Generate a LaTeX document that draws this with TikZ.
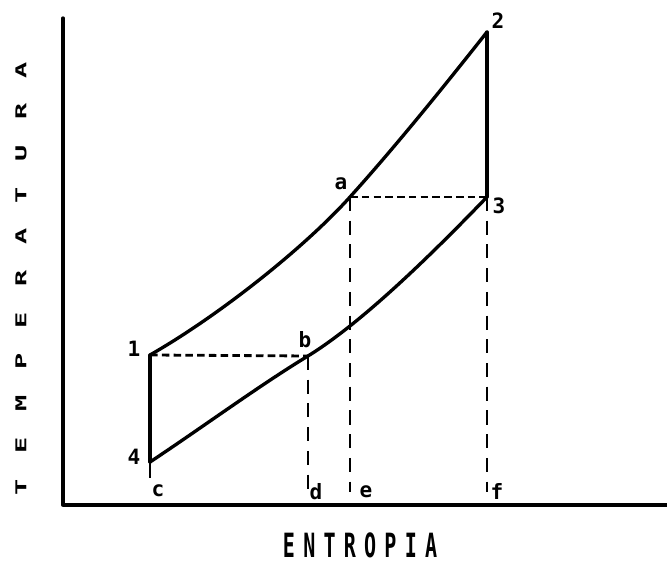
\documentclass[tikz,border=0pt]{standalone}
\usepackage{fontspec}
\newfontfamily\pixfont{DejaVu Sans Mono}
\begin{document}
\begin{tikzpicture}[x=0.02cm,y=-0.02cm,
  solidln/.style={line width=1.9pt, line join=round, line cap=round},
  hdash/.style={line width=1.6pt, dash pattern=on 4.3pt off 2.4pt},
  vdash/.style={line width=1.4pt, dash pattern=on 8pt off 5.5pt},
  lbl/.style={font=\pixfont\bfseries\fontsize{12}{12}\selectfont, inner sep=0pt},
  ylbl/.style={font=\pixfont\bfseries\fontsize{8.5}{8.5}\selectfont, inner sep=0pt, rotate=90},
  xlbl/.style={font=\pixfont\bfseries\fontsize{19}{19}\selectfont, inner sep=0pt},
]
\useasboundingbox (0,0) rectangle (667,563);
% axes
\coordinate (Ytop) at (63,18);
\coordinate (O) at (63,505);
\coordinate (Xend) at (667,505);
\draw[solidln] (Ytop) -- (O) -- (Xend);
% points
\coordinate (p1) at (150,355);
\coordinate (p4) at (150,462);
\coordinate (p2) at (487,32);
\coordinate (p3) at (487,197);
\coordinate (pa) at (350,197);
\coordinate (pb) at (308,356);
\coordinate (qc) at (150,478);
\coordinate (qd) at (308,492);
\coordinate (qe) at (350,492);
\coordinate (qf) at (487,492);
% solid verticals
\draw[solidln] (p1) -- (p4);
\draw[solidln] (p2) -- (p3);
% upper curve
\draw[solidln] (p1) .. controls (220,315) and (305,247) .. (pa)
                    .. controls (395,147) and (442,89) .. (p2);
% lower curve
\draw[solidln] (p4) .. controls (200,429) and (260,385) .. (pb)
                    .. controls (363,322) and (432,254) .. (p3);
% dashed
\draw[hdash] (p1) -- (pb);
\draw[hdash] (pa) -- (p3);
\draw[vdash] (pb) -- (qd);
\draw[vdash] (pa) -- (qe);
\draw[vdash] (p3) -- (qf);
\draw[line width=1.4pt] (p4) -- (qc);
% labels
\node[lbl] (l1) at (134,349) {1};
\node[lbl] (l4) at (134,457) {4};
\node[lbl] (l2) at (498,21) {2};
\node[lbl] (l3) at (499,206) {3};
\node[lbl] (la) at (341,184) {a};
\node[lbl] (lb) at (305,340) {b};
\node[lbl] (lc) at (158,491) {c};
\node[lbl] (ld) at (316,492) {d};
\node[lbl] (le) at (366,492) {e};
\node[lbl] (lf) at (497,491) {f};
% axis titles
\foreach \ch [count=\i from 0] in {E,N,T,R,O,P,I,A}
  \node[xlbl] (xt\i) at ({289+20.3*\i},545) {\scalebox{0.6}[1]{\ch}};
\foreach \ch [count=\i from 0] in {T,E,M,P,E,R,A,T,U,R,A}
  \node[ylbl] (yt\i) at (21,{487-41.7*\i}) {\scalebox{1.8}[1]{\ch}};
\end{tikzpicture}
\end{document}
